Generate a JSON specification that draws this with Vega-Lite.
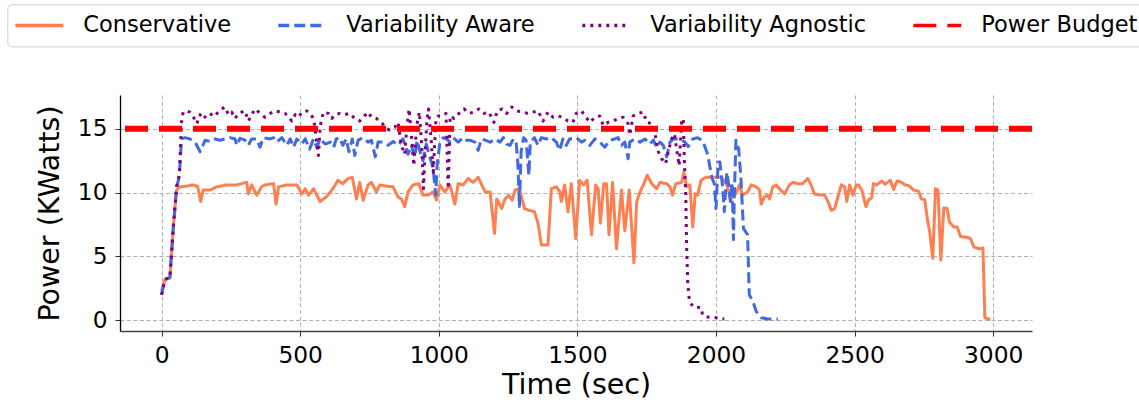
{
"$schema": "https://vega.github.io/schema/vega-lite/v6.json",
"width": 912, "height": 236,
"autosize": {"type": "none"},
"padding": {"left": 120, "top": 95, "right": 107, "bottom": 72},
"background": "white",
"config": {"view": {"stroke": null}, "font": "DejaVu Sans",
  "axis": {"labelFont": "DejaVu Sans", "titleFont": "DejaVu Sans", "titleFontWeight": "normal", "labelColor": "black", "titleColor": "black", "labelFontSize": 23.3, "titleFontSize": 28.5, "tickSize": 5, "tickColor": "#333", "labelPadding": 8, "grid": true, "gridDash": [4, 2.5], "gridColor": "#b0b0b0", "gridWidth": 1, "labelFlush": false, "labelOverlap": false, "format": "d"}
},
"datasets": {
"cons": [{"t":0,"p":2.3},{"t":12,"p":3.2},{"t":30,"p":3.3},{"t":42,"p":7.2},{"t":54,"p":10.2},{"t":66,"p":10.45},{"t":90,"p":10.5},{"t":110,"p":10.6},{"t":130,"p":10.5},{"t":141,"p":9.3},{"t":150,"p":10.2},{"t":175,"p":10.2},{"t":199,"p":10.45},{"t":235,"p":10.6},{"t":271,"p":10.6},{"t":307,"p":10.8},{"t":313,"p":9.9},{"t":325,"p":10.6},{"t":343,"p":9.8},{"t":361,"p":10.45},{"t":373,"p":10.6},{"t":404,"p":10.7},{"t":413,"p":9.1},{"t":422,"p":10.45},{"t":452,"p":10.6},{"t":488,"p":10.6},{"t":506,"p":9.9},{"t":518,"p":10.3},{"t":530,"p":9.8},{"t":548,"p":10.3},{"t":572,"p":9.3},{"t":596,"p":9.7},{"t":614,"p":10.2},{"t":627,"p":10.6},{"t":636,"p":10.96},{"t":654,"p":10.7},{"t":672,"p":11.1},{"t":688,"p":11.2},{"t":703,"p":9.5},{"t":715,"p":10.8},{"t":727,"p":9.4},{"t":745,"p":10.6},{"t":757,"p":10.8},{"t":775,"p":10.05},{"t":787,"p":10.6},{"t":811,"p":10.5},{"t":835,"p":10.45},{"t":853,"p":9.66},{"t":865,"p":9.5},{"t":877,"p":8.9},{"t":889,"p":10.05},{"t":907,"p":10.6},{"t":928,"p":10.7},{"t":943,"p":9.8},{"t":961,"p":9.8},{"t":980,"p":10.05},{"t":992,"p":9.4},{"t":1004,"p":10.6},{"t":1022,"p":10.05},{"t":1040,"p":10.6},{"t":1058,"p":9.1},{"t":1070,"p":10.7},{"t":1088,"p":10.6},{"t":1106,"p":11.1},{"t":1124,"p":10.8},{"t":1142,"p":11.2},{"t":1167,"p":10.05},{"t":1185,"p":10.05},{"t":1201,"p":6.8},{"t":1209,"p":9.5},{"t":1227,"p":8.75},{"t":1239,"p":9.5},{"t":1252,"p":9.8},{"t":1264,"p":9.4},{"t":1276,"p":10.2},{"t":1291,"p":10.3},{"t":1309,"p":8.75},{"t":1327,"p":8.6},{"t":1345,"p":8.5},{"t":1358,"p":7.6},{"t":1370,"p":5.9},{"t":1394,"p":5.9},{"t":1406,"p":10.3},{"t":1424,"p":10.45},{"t":1436,"p":10.1},{"t":1442,"p":9.3},{"t":1454,"p":10.6},{"t":1466,"p":8.5},{"t":1478,"p":10.7},{"t":1494,"p":6.4},{"t":1508,"p":10.96},{"t":1523,"p":10.6},{"t":1535,"p":10.96},{"t":1551,"p":6.7},{"t":1566,"p":10.6},{"t":1575,"p":10.3},{"t":1583,"p":7.6},{"t":1595,"p":10.7},{"t":1605,"p":10.7},{"t":1614,"p":6.7},{"t":1627,"p":10.8},{"t":1641,"p":5.6},{"t":1659,"p":10.2},{"t":1671,"p":7.0},{"t":1687,"p":10.2},{"t":1704,"p":4.5},{"t":1714,"p":9.3},{"t":1726,"p":10.05},{"t":1738,"p":10.6},{"t":1752,"p":11.35},{"t":1768,"p":10.7},{"t":1786,"p":10.3},{"t":1798,"p":10.8},{"t":1822,"p":10.7},{"t":1834,"p":10.45},{"t":1843,"p":9.8},{"t":1855,"p":10.7},{"t":1876,"p":10.8},{"t":1884,"p":11.6},{"t":1894,"p":10.45},{"t":1906,"p":10.6},{"t":1916,"p":7.3},{"t":1925,"p":9.9},{"t":1934,"p":9.8},{"t":1946,"p":10.96},{"t":1964,"p":11.2},{"t":1982,"p":11.2},{"t":2000,"p":11.2},{"t":2018,"p":11.2},{"t":2036,"p":10.8},{"t":2046,"p":10.1},{"t":2054,"p":9.3},{"t":2060,"p":10.3},{"t":2072,"p":9.9},{"t":2084,"p":10.6},{"t":2096,"p":9.8},{"t":2114,"p":10.05},{"t":2127,"p":10.6},{"t":2145,"p":10.45},{"t":2157,"p":10.2},{"t":2163,"p":9.1},{"t":2175,"p":9.66},{"t":2187,"p":9.8},{"t":2193,"p":9.5},{"t":2205,"p":10.45},{"t":2217,"p":10.6},{"t":2229,"p":10.3},{"t":2247,"p":9.9},{"t":2265,"p":10.6},{"t":2277,"p":10.8},{"t":2295,"p":10.7},{"t":2313,"p":10.7},{"t":2331,"p":11.1},{"t":2343,"p":10.6},{"t":2355,"p":9.9},{"t":2374,"p":9.8},{"t":2392,"p":9.8},{"t":2404,"p":9.3},{"t":2416,"p":8.6},{"t":2428,"p":8.75},{"t":2440,"p":9.66},{"t":2452,"p":10.6},{"t":2464,"p":10.45},{"t":2472,"p":9.3},{"t":2482,"p":10.6},{"t":2494,"p":9.8},{"t":2506,"p":10.6},{"t":2514,"p":10.6},{"t":2526,"p":10.2},{"t":2541,"p":8.9},{"t":2550,"p":9.4},{"t":2562,"p":9.6},{"t":2568,"p":10.7},{"t":2580,"p":10.6},{"t":2598,"p":10.9},{"t":2610,"p":10.65},{"t":2629,"p":10.96},{"t":2641,"p":10.25},{"t":2653,"p":10.9},{"t":2665,"p":10.85},{"t":2683,"p":10.6},{"t":2695,"p":10.55},{"t":2713,"p":10.2},{"t":2731,"p":10.1},{"t":2741,"p":9.5},{"t":2753,"p":9.45},{"t":2762,"p":8.0},{"t":2771,"p":6.9},{"t":2782,"p":4.85},{"t":2792,"p":10.3},{"t":2801,"p":10.2},{"t":2811,"p":4.7},{"t":2822,"p":8.8},{"t":2834,"p":8.75},{"t":2842,"p":7.7},{"t":2858,"p":7.3},{"t":2870,"p":7.3},{"t":2882,"p":6.55},{"t":2906,"p":6.5},{"t":2918,"p":6.4},{"t":2930,"p":5.75},{"t":2948,"p":5.6},{"t":2963,"p":5.65},{"t":2970,"p":0.2},{"t":2990,"p":0.05}],
"aware": [{"t":0,"p":2.0},{"t":12,"p":3.2},{"t":30,"p":3.35},{"t":42,"p":7.2},{"t":54,"p":10.3},{"t":64,"p":11.35},{"t":72,"p":14.2},{"t":84,"p":14.3},{"t":102,"p":14.2},{"t":121,"p":13.95},{"t":139,"p":13.2},{"t":157,"p":14.1},{"t":175,"p":14.0},{"t":193,"p":14.2},{"t":211,"p":14.1},{"t":229,"p":14.2},{"t":247,"p":14.3},{"t":265,"p":14.2},{"t":271,"p":13.7},{"t":283,"p":14.25},{"t":301,"p":14.1},{"t":313,"p":13.7},{"t":325,"p":14.2},{"t":343,"p":14.2},{"t":355,"p":13.55},{"t":367,"p":14.3},{"t":392,"p":14.2},{"t":404,"p":14.3},{"t":416,"p":13.95},{"t":434,"p":14.3},{"t":452,"p":13.7},{"t":464,"p":14.2},{"t":476,"p":13.55},{"t":488,"p":14.2},{"t":506,"p":13.8},{"t":518,"p":14.2},{"t":534,"p":13.4},{"t":548,"p":14.2},{"t":560,"p":13.55},{"t":572,"p":14.2},{"t":590,"p":13.8},{"t":609,"p":13.95},{"t":621,"p":13.55},{"t":630,"p":14.2},{"t":642,"p":14.3},{"t":654,"p":13.7},{"t":666,"p":14.2},{"t":676,"p":13.2},{"t":688,"p":14.2},{"t":697,"p":12.9},{"t":709,"p":14.1},{"t":727,"p":14.3},{"t":745,"p":13.95},{"t":757,"p":14.1},{"t":771,"p":12.8},{"t":781,"p":13.95},{"t":799,"p":13.95},{"t":817,"p":13.7},{"t":835,"p":14.0},{"t":853,"p":13.7},{"t":871,"p":14.2},{"t":889,"p":13.0},{"t":901,"p":13.7},{"t":913,"p":12.8},{"t":922,"p":14.1},{"t":931,"p":13.3},{"t":943,"p":12.5},{"t":955,"p":13.8},{"t":967,"p":12.8},{"t":979,"p":12.0},{"t":989,"p":9.8},{"t":994,"p":12.1},{"t":1004,"p":13.95},{"t":1016,"p":14.3},{"t":1028,"p":14.2},{"t":1040,"p":13.95},{"t":1052,"p":14.3},{"t":1070,"p":13.95},{"t":1088,"p":14.3},{"t":1100,"p":14.1},{"t":1112,"p":14.1},{"t":1130,"p":13.95},{"t":1142,"p":13.3},{"t":1154,"p":14.2},{"t":1167,"p":14.1},{"t":1185,"p":13.95},{"t":1203,"p":14.2},{"t":1221,"p":13.95},{"t":1233,"p":14.3},{"t":1245,"p":13.8},{"t":1257,"p":13.7},{"t":1269,"p":14.2},{"t":1279,"p":13.95},{"t":1285,"p":12.4},{"t":1291,"p":8.9},{"t":1297,"p":13.2},{"t":1306,"p":14.3},{"t":1315,"p":14.1},{"t":1325,"p":11.35},{"t":1330,"p":13.95},{"t":1345,"p":14.3},{"t":1358,"p":13.7},{"t":1370,"p":14.3},{"t":1388,"p":14.2},{"t":1406,"p":14.3},{"t":1424,"p":13.95},{"t":1436,"p":13.3},{"t":1448,"p":14.2},{"t":1460,"p":13.7},{"t":1472,"p":14.2},{"t":1496,"p":14.3},{"t":1515,"p":13.95},{"t":1527,"p":14.1},{"t":1545,"p":13.7},{"t":1563,"p":14.2},{"t":1581,"p":13.95},{"t":1599,"p":13.55},{"t":1617,"p":14.1},{"t":1635,"p":14.2},{"t":1647,"p":14.3},{"t":1659,"p":13.7},{"t":1671,"p":13.95},{"t":1683,"p":12.65},{"t":1689,"p":13.95},{"t":1707,"p":14.2},{"t":1726,"p":13.95},{"t":1744,"p":14.2},{"t":1762,"p":13.8},{"t":1774,"p":14.1},{"t":1786,"p":13.55},{"t":1798,"p":13.95},{"t":1810,"p":13.7},{"t":1822,"p":12.8},{"t":1834,"p":13.95},{"t":1846,"p":14.2},{"t":1870,"p":14.2},{"t":1888,"p":13.95},{"t":1900,"p":13.6},{"t":1916,"p":14.2},{"t":1934,"p":14.3},{"t":1952,"p":14.05},{"t":1970,"p":13.0},{"t":1978,"p":12.0},{"t":1986,"p":11.1},{"t":1994,"p":10.7},{"t":2000,"p":8.75},{"t":2008,"p":12.4},{"t":2014,"p":12.4},{"t":2024,"p":10.45},{"t":2030,"p":8.5},{"t":2039,"p":11.6},{"t":2046,"p":10.6},{"t":2052,"p":9.3},{"t":2058,"p":10.8},{"t":2063,"p":6.3},{"t":2066,"p":9.6},{"t":2072,"p":14.1},{"t":2082,"p":13.4},{"t":2090,"p":11.1},{"t":2099,"p":7.2},{"t":2114,"p":6.7},{"t":2120,"p":2.0},{"t":2133,"p":1.5},{"t":2145,"p":0.7},{"t":2163,"p":0.2},{"t":2187,"p":0.1},{"t":2223,"p":0.1}],
"agn": [{"t":0,"p":2.0},{"t":12,"p":3.2},{"t":30,"p":3.35},{"t":42,"p":7.2},{"t":54,"p":10.5},{"t":64,"p":11.35},{"t":72,"p":15.5},{"t":78,"p":16.3},{"t":90,"p":16.4},{"t":102,"p":16.3},{"t":115,"p":15.9},{"t":127,"p":15.4},{"t":139,"p":16.1},{"t":151,"p":15.75},{"t":163,"p":16.1},{"t":175,"p":16.2},{"t":187,"p":15.95},{"t":205,"p":16.3},{"t":217,"p":16.55},{"t":229,"p":16.7},{"t":241,"p":16.1},{"t":253,"p":16.3},{"t":265,"p":15.8},{"t":277,"p":16.2},{"t":289,"p":16.3},{"t":301,"p":16.4},{"t":313,"p":15.6},{"t":325,"p":16.1},{"t":337,"p":16.55},{"t":355,"p":16.2},{"t":373,"p":15.9},{"t":392,"p":16.2},{"t":410,"p":16.4},{"t":428,"p":16.3},{"t":446,"p":16.2},{"t":458,"p":15.9},{"t":470,"p":15.6},{"t":482,"p":16.1},{"t":494,"p":15.9},{"t":506,"p":16.3},{"t":524,"p":16.4},{"t":536,"p":16.2},{"t":548,"p":15.8},{"t":554,"p":15.0},{"t":560,"p":13.8},{"t":566,"p":12.9},{"t":572,"p":15.2},{"t":584,"p":16.3},{"t":602,"p":16.2},{"t":614,"p":15.8},{"t":624,"p":16.1},{"t":642,"p":16.2},{"t":660,"p":16.1},{"t":678,"p":16.2},{"t":697,"p":15.8},{"t":715,"p":15.6},{"t":727,"p":15.9},{"t":745,"p":16.3},{"t":757,"p":15.9},{"t":775,"p":15.8},{"t":793,"p":15.5},{"t":811,"p":15.0},{"t":823,"p":14.9},{"t":841,"p":15.1},{"t":853,"p":15.5},{"t":865,"p":13.7},{"t":877,"p":13.0},{"t":883,"p":14.7},{"t":893,"p":16.55},{"t":901,"p":14.5},{"t":910,"p":12.1},{"t":920,"p":15.2},{"t":930,"p":16.3},{"t":938,"p":13.8},{"t":945,"p":10.3},{"t":950,"p":12.9},{"t":957,"p":15.6},{"t":963,"p":16.55},{"t":973,"p":14.0},{"t":980,"p":11.6},{"t":990,"p":15.8},{"t":998,"p":16.0},{"t":1014,"p":16.0},{"t":1026,"p":16.2},{"t":1034,"p":10.3},{"t":1041,"p":16.0},{"t":1055,"p":15.8},{"t":1073,"p":16.2},{"t":1091,"p":16.55},{"t":1109,"p":16.2},{"t":1127,"p":16.3},{"t":1145,"p":16.55},{"t":1163,"p":16.2},{"t":1181,"p":16.3},{"t":1199,"p":15.5},{"t":1211,"p":16.4},{"t":1229,"p":16.55},{"t":1245,"p":16.2},{"t":1263,"p":16.7},{"t":1279,"p":16.4},{"t":1303,"p":16.3},{"t":1321,"p":16.2},{"t":1339,"p":16.3},{"t":1358,"p":16.4},{"t":1376,"p":15.6},{"t":1394,"p":16.3},{"t":1412,"p":15.9},{"t":1430,"p":16.0},{"t":1448,"p":15.9},{"t":1466,"p":15.6},{"t":1484,"p":15.5},{"t":1496,"p":16.2},{"t":1515,"p":16.4},{"t":1527,"p":16.0},{"t":1545,"p":15.5},{"t":1563,"p":15.9},{"t":1581,"p":16.0},{"t":1593,"p":15.25},{"t":1611,"p":15.5},{"t":1629,"p":15.6},{"t":1647,"p":15.8},{"t":1665,"p":15.9},{"t":1683,"p":15.4},{"t":1689,"p":14.5},{"t":1701,"p":16.0},{"t":1719,"p":16.2},{"t":1738,"p":16.3},{"t":1750,"p":15.5},{"t":1768,"p":15.4},{"t":1780,"p":14.6},{"t":1792,"p":13.2},{"t":1804,"p":12.65},{"t":1818,"p":12.25},{"t":1828,"p":13.2},{"t":1840,"p":14.2},{"t":1850,"p":14.6},{"t":1858,"p":13.4},{"t":1867,"p":12.1},{"t":1876,"p":15.5},{"t":1882,"p":15.8},{"t":1886,"p":12.4},{"t":1891,"p":9.8},{"t":1894,"p":5.9},{"t":1898,"p":3.0},{"t":1904,"p":1.5},{"t":1918,"p":1.05},{"t":1946,"p":1.0},{"t":1952,"p":0.4},{"t":1970,"p":0.25},{"t":2000,"p":0.2},{"t":2030,"p":0.1}],
"budget": [{"p": 15}]
},
"layer": [
 {"data": {"name": "cons"},
  "mark": {"type": "line", "strokeJoin": "round", "strokeWidth": 3},
  "encoding": {
   "x": {"field": "t", "type": "quantitative", "scale": {"domain": [-150, 3140], "nice": false, "zero": false},
         "axis": {"values": [0, 500, 1000, 1500, 2000, 2500, 3000], "title": "Time (sec)", "titlePadding": 4, "domainColor": "#444", "domainWidth": 1.6}},
   "y": {"field": "p", "type": "quantitative", "scale": {"domain": [-0.84, 17.64], "nice": false, "zero": false},
         "axis": {"values": [0, 5, 10, 15], "title": "Power (KWatts)", "titlePadding": 13, "domainColor": "black", "domainWidth": 1.3}},
   "color": {"datum": "Conservative", "type": "nominal",
     "scale": {"domain": ["Conservative", "Variability Aware", "Variability Agnostic", "Power Budget"], "range": ["#FF7F50", "#4169E1", "#800080", "#FF0000"]},
     "legend": {"orient": "none", "legendX": -112.7, "legendY": -90.6, "direction": "horizontal", "columns": 4, "title": null,
       "symbolType": "stroke", "symbolSize": 2304, "symbolStrokeWidth": 3.5, "clipHeight": 30, "labelFontSize": 22.5, "labelFont": "DejaVu Sans", "labelColor": "black",
       "labelLimit": 400, "labelOffset": 18, "columnPadding": 45, "padding": 6, "strokeColor": "#d0d0d0", "fillColor": "white", "cornerRadius": 4}},
   "strokeDash": {"datum": "Conservative", "type": "nominal",
     "scale": {"domain": ["Conservative", "Variability Aware", "Variability Agnostic", "Power Budget"], "range": [[1, 0], [11, 5], [3, 5], [23, 11]]}}
  }},
 {"data": {"name": "aware"},
  "mark": {"type": "line", "strokeJoin": "round", "strokeWidth": 3},
  "encoding": {
   "x": {"field": "t", "type": "quantitative"},
   "y": {"field": "p", "type": "quantitative"},
   "color": {"datum": "Variability Aware", "type": "nominal"},
   "strokeDash": {"datum": "Variability Aware", "type": "nominal"}
  }},
 {"data": {"name": "agn"},
  "mark": {"type": "line", "strokeJoin": "round", "strokeWidth": 3},
  "encoding": {
   "x": {"field": "t", "type": "quantitative"},
   "y": {"field": "p", "type": "quantitative"},
   "color": {"datum": "Variability Agnostic", "type": "nominal"},
   "strokeDash": {"datum": "Variability Agnostic", "type": "nominal"}
  }},
 {"data": {"name": "budget"},
  "mark": {"type": "rule", "strokeWidth": 6},
  "encoding": {
   "y": {"field": "p", "type": "quantitative"},
   "color": {"datum": "Power Budget", "type": "nominal"},
   "strokeDash": {"datum": "Power Budget", "type": "nominal"}
  }}
]
}
